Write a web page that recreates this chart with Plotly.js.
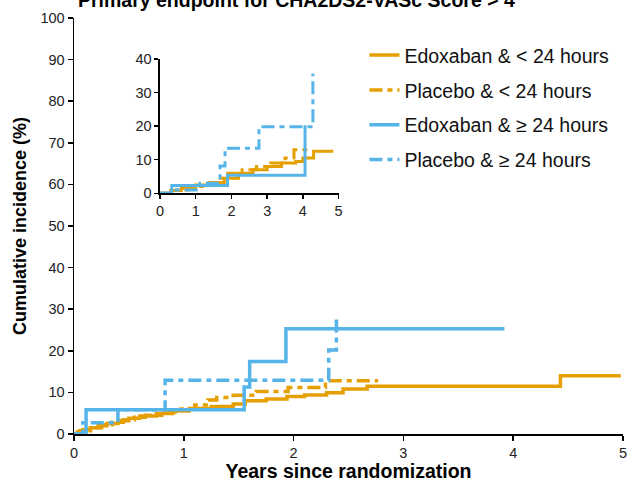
<!DOCTYPE html>
<html>
<head>
<meta charset="utf-8">
<script src="https://cdn.plot.ly/plotly-3.0.1.min.js"></script>
<style>html,body{margin:0;padding:0;background:#fff}#chart{width:628px;height:482px}</style>
</head>
<body>
<div id="chart"></div>
<script>
// ---- Data (main panel) ----
const seriesNames = ["Edoxaban & < 24 hours", "Placebo & < 24 hours", "Edoxaban & ≥ 24 hours", "Placebo & ≥ 24 hours"];
const edoLtX = [0, 0.03, 0.08, 0.15, 0.22, 0.3, 0.4, 0.5, 0.6, 0.75, 0.9, 1.05, 1.25, 1.45, 1.56, 1.75, 1.94, 2.1, 2.3, 2.45, 2.67, 4.43, 4.98];
const edoLtY = [0, 0.5, 1.0, 1.5, 2.0, 2.5, 3.2, 3.8, 4.3, 4.9, 5.5, 6.1, 6.6, 7.2, 8.0, 8.4, 9.0, 9.4, 9.9, 10.8, 11.5, 14.0, 14.0];
const plaLtX = [0, 0.05, 0.15, 0.25, 0.35, 0.45, 0.55, 0.65, 0.8, 0.95, 1.1, 1.22, 1.3, 1.45, 1.66, 1.95, 2.29, 2.77];
const plaLtY = [0, 0.8, 1.5, 2.2, 2.8, 3.4, 4.0, 4.5, 5.3, 6.0, 7.0, 8.2, 8.8, 9.3, 10.2, 11.2, 12.8, 12.8];
const edoGeX = [0, 0.11, 1.55, 1.60, 1.93, 3.92];
const edoGeY = [0, 5.8, 11.3, 17.4, 25.3, 25.3];
const plaGeX = [0, 0.08, 0.4, 0.83, 2.32, 2.39];
const plaGeY = [0, 2.7, 5.8, 12.9, 20.2, 28.2];
// ---- Data (inset panel) ----
const inEdoLtX = [0, 0.3, 0.6, 1.0, 1.4, 1.8, 2.2, 2.6, 3.0, 3.4, 3.8, 4.0, 4.3, 4.85];
const inEdoLtY = [0, 0.8, 1.5, 2.5, 3.2, 4.5, 6.0, 7.0, 8.0, 9.0, 9.5, 10.5, 12.5, 12.5];
const inPlaLtX = [0, 0.4, 0.8, 1.2, 1.6, 1.9, 2.3, 2.7, 3.1, 3.5, 3.75, 4.25];
const inPlaLtY = [0, 1.0, 2.0, 3.0, 4.5, 6.0, 7.0, 8.0, 9.0, 10.5, 13.0, 13.0];
const inEdoGeX = [0, 0.33, 1.89, 4.06, 4.06];
const inEdoGeY = [0, 2.3, 5.4, 20.3, 20.3];
const inPlaGeX = [0, 0.3, 1.12, 1.68, 1.82, 2.77, 4.28];
const inPlaGeY = [0, 1.0, 3.0, 8.1, 13.4, 19.8, 35.7];
const mainXTicks = [0, 1, 2, 3, 4, 5];
const mainYTicks = [0, 10, 20, 30, 40, 50, 60, 70, 80, 90, 100];
const insetYTicks = [0, 10, 20, 30, 40];

const ORANGE = "#E69F00", BLUE = "#56B4E9";
const DASH = "13px,5px,5px,5px";
const styles = [
  {color: ORANGE, dash: "solid"},
  {color: ORANGE, dash: DASH},
  {color: BLUE, dash: "solid"},
  {color: BLUE, dash: DASH}
];
const mainData = [[edoLtX, edoLtY], [plaLtX, plaLtY], [edoGeX, edoGeY], [plaGeX, plaGeY]];
const insetData = [[inEdoLtX, inEdoLtY], [inPlaLtX, inPlaLtY], [inEdoGeX, inEdoGeY], [inPlaGeX, inPlaGeY]];

const traces = [];
mainData.forEach((d, i) => {
  traces.push({
    x: d[0], y: d[1], type: "scatter", mode: "lines",
    name: seriesNames[i], legendgroup: "g" + i,
    line: {shape: "hv", color: styles[i].color, dash: styles[i].dash, width: 3.5},
    xaxis: "x", yaxis: "y", hoverinfo: "skip"
  });
});
insetData.forEach((d, i) => {
  traces.push({
    x: d[0], y: d[1], type: "scatter", mode: "lines",
    name: seriesNames[i], legendgroup: "g" + i, showlegend: false,
    line: {shape: "hv", color: styles[i].color, dash: styles[i].dash, width: 3},
    xaxis: "x2", yaxis: "y2", hoverinfo: "skip"
  });
});

const FONT = "Liberation Sans, Arial, sans-serif";
const axisCommon = {
  showgrid: false, zeroline: false, showline: true, linecolor: "#000", linewidth: 1.5,
  ticks: "outside", ticklen: 5, tickwidth: 1.5, tickcolor: "#000",
  tickfont: {family: FONT, size: 14.5, color: "#222"}
};
const layout = {
  width: 628, height: 482,
  margin: {l: 74, r: 5, t: 18, b: 48},
  paper_bgcolor: "#fff", plot_bgcolor: "#fff",
  font: {family: FONT, color: "#000"},
  title: {text: "<b>Primary endpoint for CHA2DS2-VASc Score > 4</b>", font: {family: FONT, size: 19.5, color: "#000"},
          x: 0.472, xanchor: "center", yref: "container", y: 1.0, yanchor: "middle"},
  xaxis: Object.assign({}, axisCommon, {
    domain: [0, 1], range: [0, 5], tickvals: mainXTicks, ticktext: mainXTicks.map(String),
    title: {text: "<b>Years since randomization</b>", font: {family: FONT, size: 19.5, color: "#000"}, standoff: 3},
    anchor: "y"
  }),
  yaxis: Object.assign({}, axisCommon, {
    domain: [0, 1], range: [0, 100], tickvals: mainYTicks, ticktext: mainYTicks.map(String),
    title: {text: "<b>Cumulative incidence (%)</b>", font: {family: FONT, size: 18, color: "#000"}, standoff: 9},
    anchor: "x"
  }),
  xaxis2: Object.assign({}, axisCommon, {
    domain: [0.1566, 0.482], range: [0, 5], tickvals: mainXTicks, ticktext: mainXTicks.map(String),
    anchor: "y2", ticklen: 4
  }),
  yaxis2: Object.assign({}, axisCommon, {
    domain: [0.5786, 0.9014], range: [0, 40], tickvals: insetYTicks, ticktext: insetYTicks.map(String),
    anchor: "x2", ticklen: 4
  }),
  showlegend: true,
  legend: {
    x: 0.529, y: 0.957, xanchor: "left", yanchor: "top",
    font: {family: FONT, size: 19.5, color: "#111"},
    bgcolor: "rgba(0,0,0,0)", traceorder: "grouped", tracegroupgap: 6.5,
    itemwidth: 30
  }
};
Plotly.newPlot("chart", traces, layout, {staticPlot: true, displayModeBar: false});
</script>
</body>
</html>
